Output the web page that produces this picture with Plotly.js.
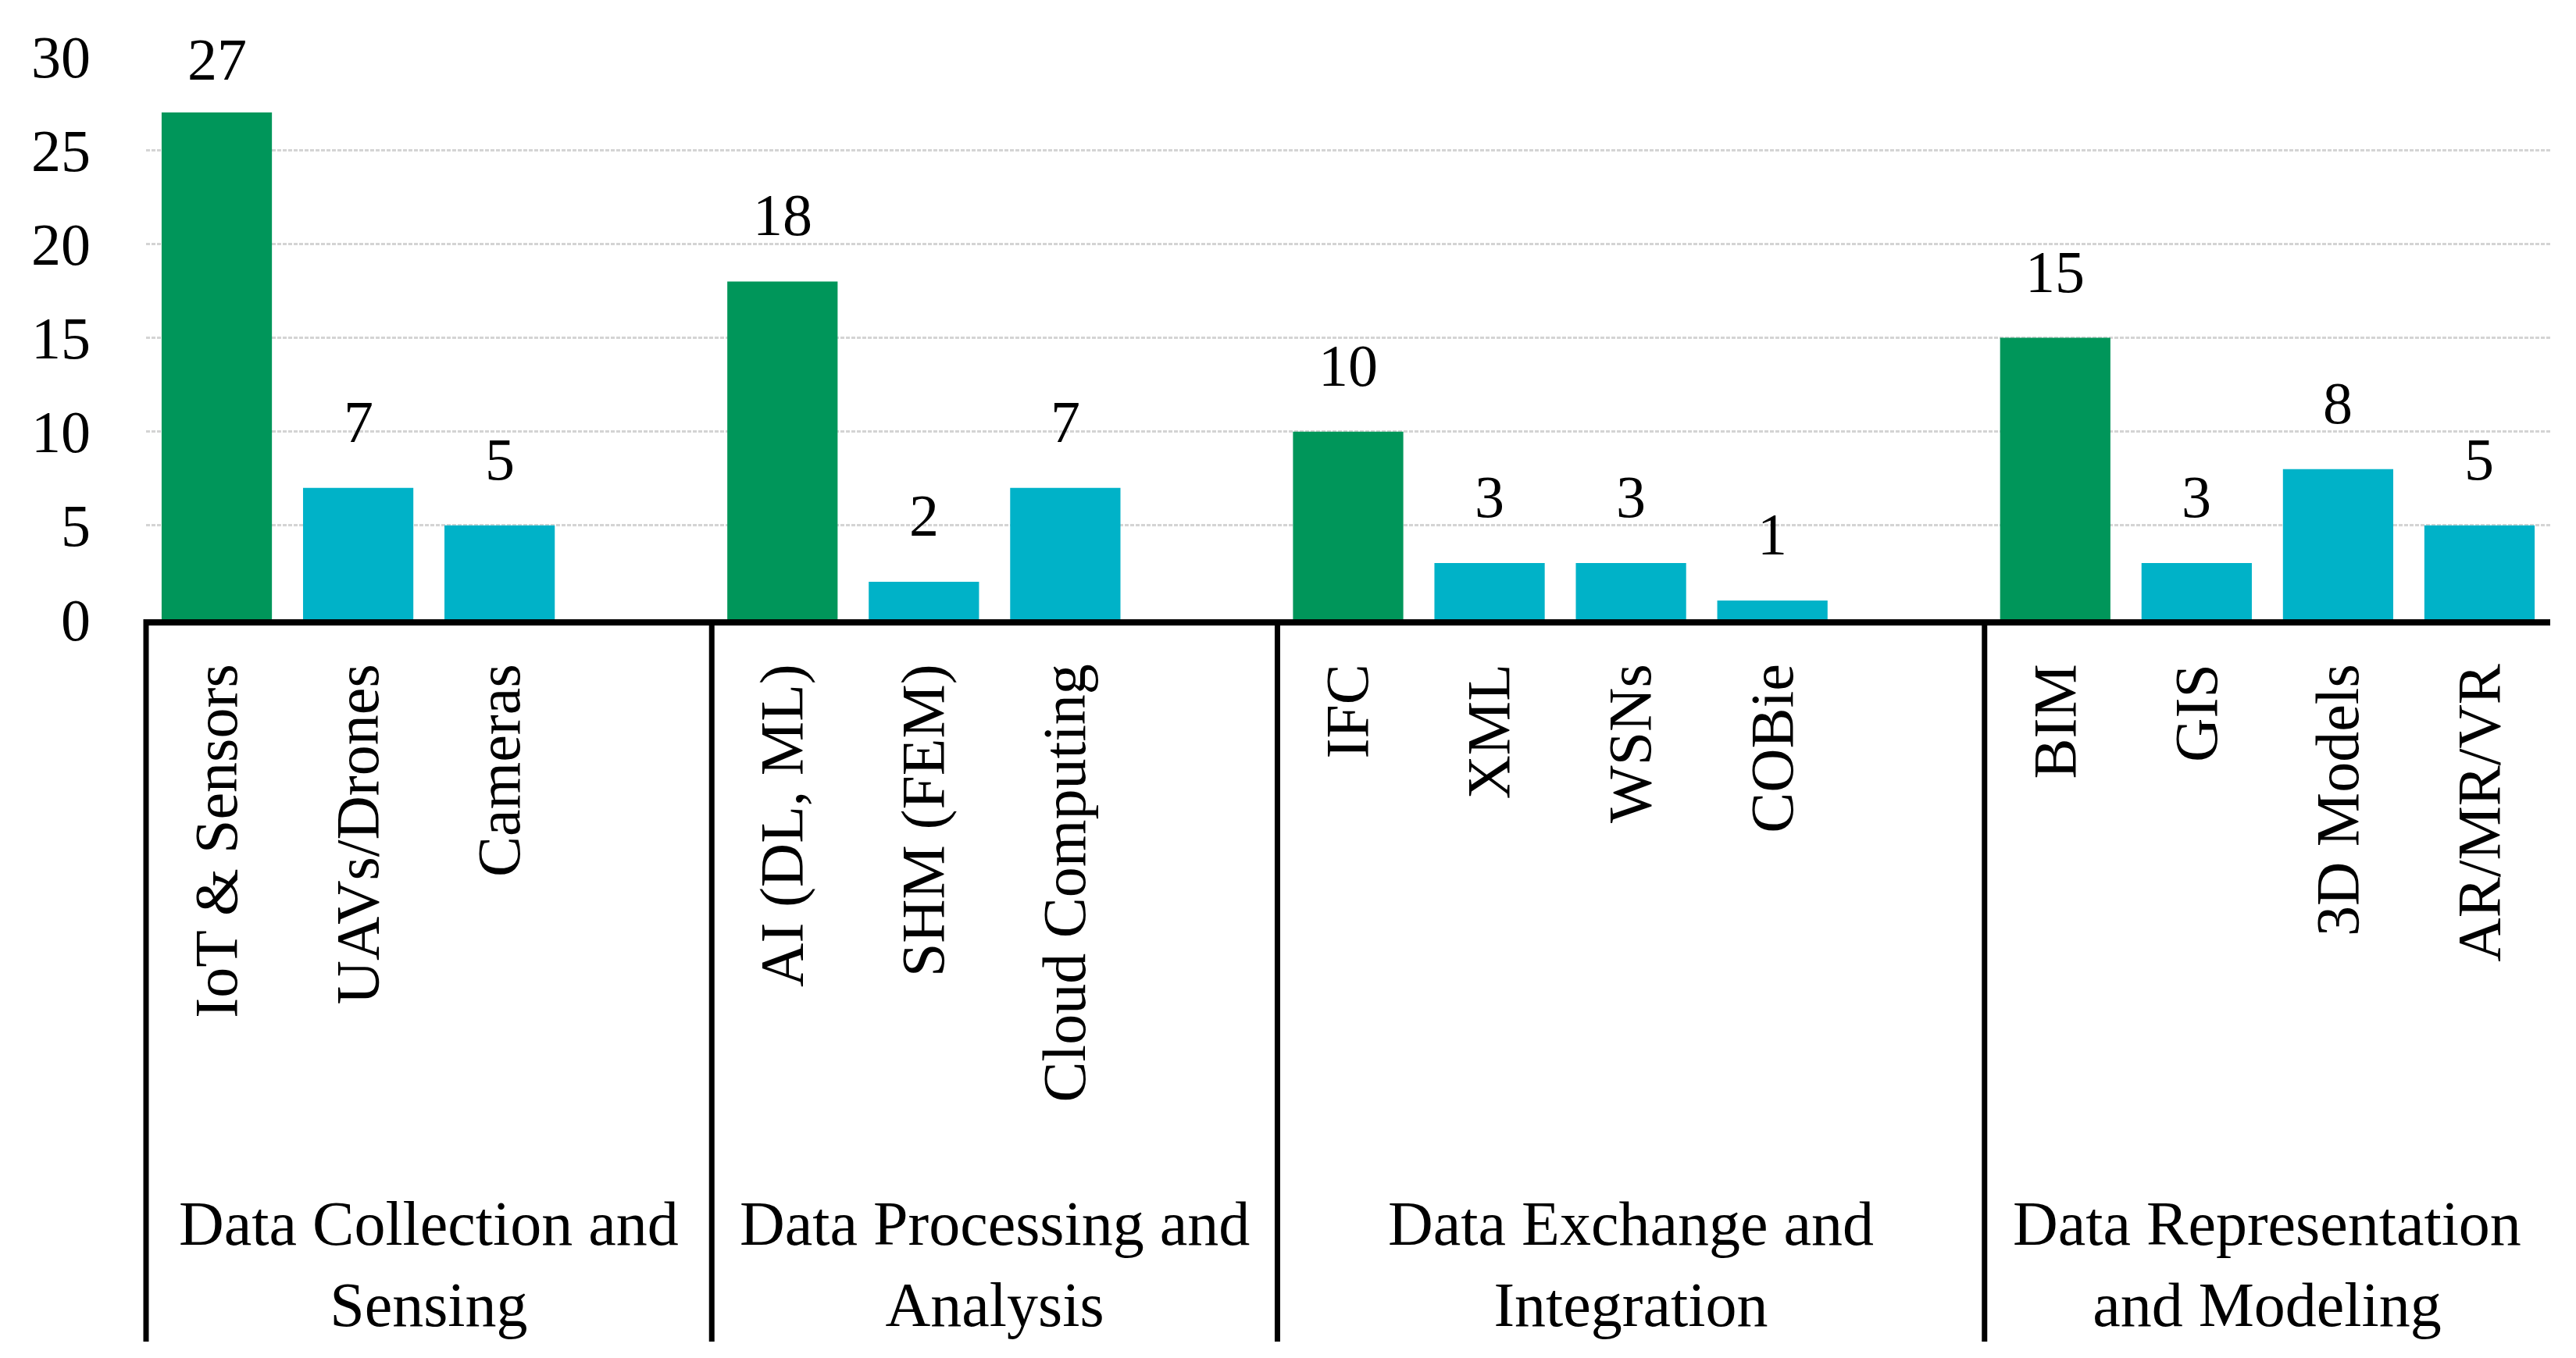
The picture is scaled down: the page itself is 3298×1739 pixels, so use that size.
<!DOCTYPE html>
<html>
<head>
<meta charset="utf-8">
<script src="https://cdn.plot.ly/plotly-3.0.1.min.js"></script>
<style>html,body{margin:0;padding:0;background:#fff;}#chart{width:3298px;height:1739px;}</style>
</head>
<body>
<div id="chart"></div>
<script>
// ---- data ----
const groupNames = ["Data Collection and<br>Sensing", "Data Processing and<br>Analysis", "Data Exchange and<br>Integration", "Data Representation<br>and Modeling"];
const collectionLabels = ["IoT & Sensors", "UAVs/Drones", "Cameras", ""];
const collectionValues = [27, 7, 5, null];
const processingLabels = ["AI (DL, ML)", "SHM (FEM)", "Cloud Computing", ""];
const processingValues = [18, 2, 7, null];
const exchangeLabels = ["IFC", "XML", "WSNs", "COBie", ""];
const exchangeValues = [10, 3, 3, 1, null];
const representationLabels = ["BIM", "GIS", "3D Models", "AR/MR/VR"];
const representationValues = [15, 3, 8, 5];
const yTickValues = [0, 5, 10, 15, 20, 25, 30];

// ---- build ----
const groupLabels = [collectionLabels, processingLabels, exchangeLabels, representationLabels];
const groupValues = [collectionValues, processingValues, exchangeValues, representationValues];

const GREEN = "#00965A", CYAN = "#00B2C8";
const FONT = "'Palatino Linotype', 'Book Antiqua', Palatino, 'Liberation Serif', serif";

const W = 3298, H = 1739;
const margin = {l: 187, r: 33, t: 72, b: 946};
const plotH = H - margin.t - margin.b;
const yMax = 30;

let xs = [], ys = [], labels = [], colors = [], boundaries = [], centers = [];
let pos = 0;
groupLabels.forEach((labs, g) => {
  boundaries.push(pos);
  centers.push(pos - 0.5 + labs.length / 2);
  labs.forEach((lab, i) => {
    xs.push(pos);
    ys.push(groupValues[g][i]);
    labels.push(lab);
    colors.push(i === 0 ? GREEN : CYAN);
    pos++;
  });
});
const nSlots = xs.length;

const trace = {
  type: "bar",
  x: xs,
  y: ys,
  marker: {color: colors},
  hoverinfo: "x+y"
};

const annotations = [];
const labelBoxH = 87, topLimit = 33, wantedShift = 41;
xs.forEach((x, i) => {
  if (ys[i] === null) return;
  const barTopPx = margin.t + (yMax - ys[i]) * plotH / yMax;
  const shift = Math.min(wantedShift, barTopPx - labelBoxH - topLimit);
  annotations.push({
    x: x, y: ys[i], xref: "x", yref: "y",
    text: String(ys[i]), showarrow: false,
    xanchor: "center", yanchor: "bottom", yshift: shift,
    font: {family: FONT, size: 76, color: "#000"}
  });
});

const bottomPaper = -(1718 - (H - margin.b)) / plotH;
const groupLabelY = -(1619 - (H - margin.b)) / plotH;
groupNames.forEach((name, g) => {
  annotations.push({
    x: centers[g], y: groupLabelY, xref: "x", yref: "paper",
    text: name, showarrow: false, xanchor: "center", yanchor: "middle",
    align: "center",
    font: {family: FONT, size: 80, color: "#000"}
  });
});

const shapes = boundaries.map(b => ({
  type: "line", xref: "paper", yref: "paper",
  x0: b / nSlots, x1: b / nSlots, y0: 0, y1: bottomPaper,
  line: {color: "#000", width: 7}
}));

const layout = {
  width: W, height: H,
  margin: margin,
  paper_bgcolor: "#fff", plot_bgcolor: "#fff",
  bargap: 0.22,
  showlegend: false,
  xaxis: {
    range: [-0.5, nSlots - 0.5],
    tickmode: "array", tickvals: xs, ticktext: labels,
    tickangle: -90,
    ticks: "", ticklabelstandoff: 18,
    showgrid: false, zeroline: false,
    showline: true, linecolor: "#000", linewidth: 8,
    tickfont: {family: FONT, size: 78, color: "#000"},
    fixedrange: true
  },
  yaxis: {
    range: [0, yMax],
    tickmode: "array", tickvals: yTickValues,
    ticks: "", ticklabelstandoff: 70,
    showgrid: true, gridcolor: "#D4D4D4", gridwidth: 3, griddash: "5px,2px",
    zeroline: false, showline: false,
    tickfont: {family: FONT, size: 76, color: "#000"},
    fixedrange: true
  },
  annotations: annotations,
  shapes: shapes
};

Plotly.newPlot("chart", [trace], layout, {displayModeBar: false, staticPlot: true});
</script>
</body>
</html>
